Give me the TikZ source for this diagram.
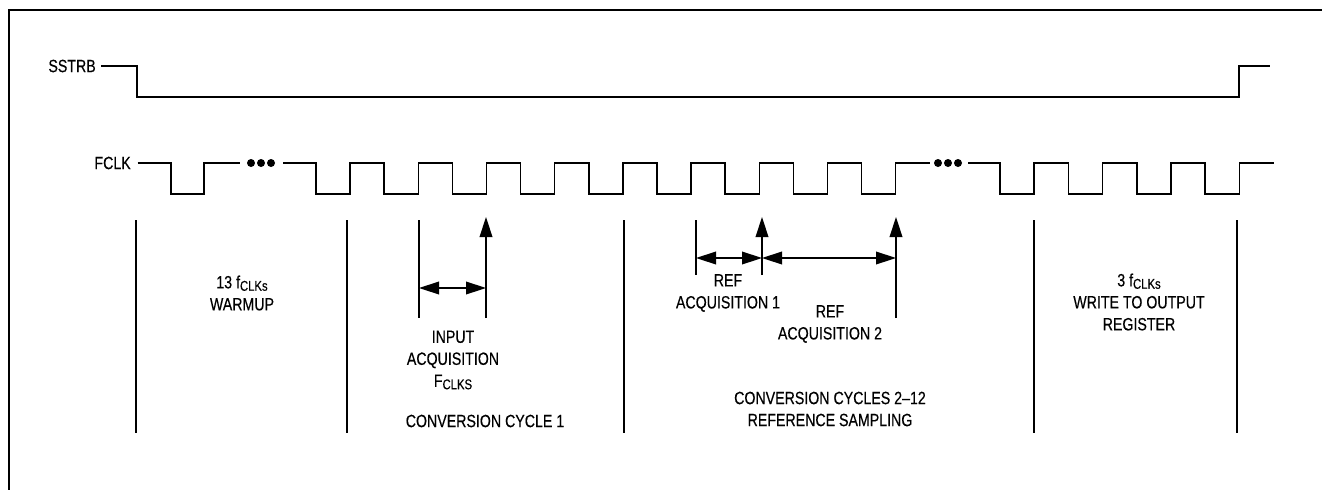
\documentclass[tikz,border=0pt]{standalone}
\usepackage{fontspec}
\setmainfont{Liberation Sans}[FakeStretch=0.8, FakeBold=0.35]
\usetikzlibrary{arrows.meta}

\newcommand\clksub[1]{\raisebox{-1.8pt}{\fontsize{10.6}{11}\selectfont #1}}

\begin{document}
\begin{tikzpicture}[
  x=0.75pt, y=-0.75pt,
  font=\fontsize{13.3}{16.5}\selectfont,
  >={Triangle[length=15pt, width=9.5pt]},
  wave/.style={line width=1.1pt, line join=miter},
  bound/.style={line width=1.1pt},
  lbl/.style={align=center, inner sep=0pt},
  uparr/.style={->, line width=1.1pt},
  dim/.style={<->, line width=1.1pt},
]
\useasboundingbox (0,0) rectangle (1322,490);

% ---- frame (open to the right and below) ----
\draw[line width=1.8pt] (1322,10) -| (9,490);

% ---- SSTRB ----
\node[lbl, anchor=east] (sstrb) at (96,66) {SSTRB};
\draw[wave] ([xshift=4pt]sstrb.east) -- (137,66) -- (137,97) -- (1239,97) -- (1239,66) -- (1270,66);

% ---- FCLK ----
\node[lbl, anchor=east] (fclk) at (131,163) {FCLK};
\draw[wave] ([xshift=5pt]fclk.east) -- (171,163) -- ++(0,31) -- ++(33,0) -- ++(0,-31) -- (240,163);
\foreach \x in {251,261,271} \fill (\x,163) circle (3pt);
\draw[wave] (283,163) -- (316,163)
  foreach \k in {1,...,9} { -- ++(0,31) -- ++(34.1,0) -- ++(0,-31) -- ++(34.1,0) };
\foreach \x in {938,948,958} \fill (\x,163) circle (3pt);
\draw[wave] (968,163) -- (1000,163)
  foreach \k in {1,...,4} { -- ++(0,31) -- ++(34.2,0) -- ++(0,-31) -- ++(34.2,0) };

% ---- phase boundaries ----
\foreach \x in {136,347,624,1034,1237} \draw[bound] (\x,220) -- (\x,433);

% ---- input acquisition ----
\coordinate (inA) at (419,288);
\coordinate (inB) at (486,288);
\draw[bound] (419,220) -- (419,318);
\draw[uparr] (486,318) -- (486,217);
\draw[dim] (inA) -- (inB);

% ---- reference acquisitions ----
\coordinate (refA) at (696,258);
\coordinate (refB) at (762,258);
\coordinate (refC) at (896,258);
\draw[bound] (696,220) -- (696,275);
\draw[uparr] (762,275) -- (762,217);
\draw[uparr] (896,318) -- (896,217);
\draw[dim] (refA) -- (refB);
\draw[dim] (refB) -- (refC);

% ---- labels ----
\node[lbl] (warmup) at (242,293) {13 f\clksub{CLKs}\\WARMUP};
\node[lbl] (inacq) at (453,360) {INPUT\\ACQUISITION\\F\clksub{CLKS}};
\node[lbl] (conv1) at (485,421) {CONVERSION CYCLE 1};
\node[lbl] (ref1) at (728,293) {REF\\ACQUISITION 1};
\node[lbl] (ref2) at (830,324) {REF\\ACQUISITION 2};
\node[lbl] (conv2) at (830,409) {CONVERSION CYCLES 2–12\\REFERENCE SAMPLING};
\node[lbl] (wrout) at (1139,302) {3 f\clksub{CLKs}\\WRITE TO OUTPUT\\REGISTER};

\end{tikzpicture}
\end{document}
